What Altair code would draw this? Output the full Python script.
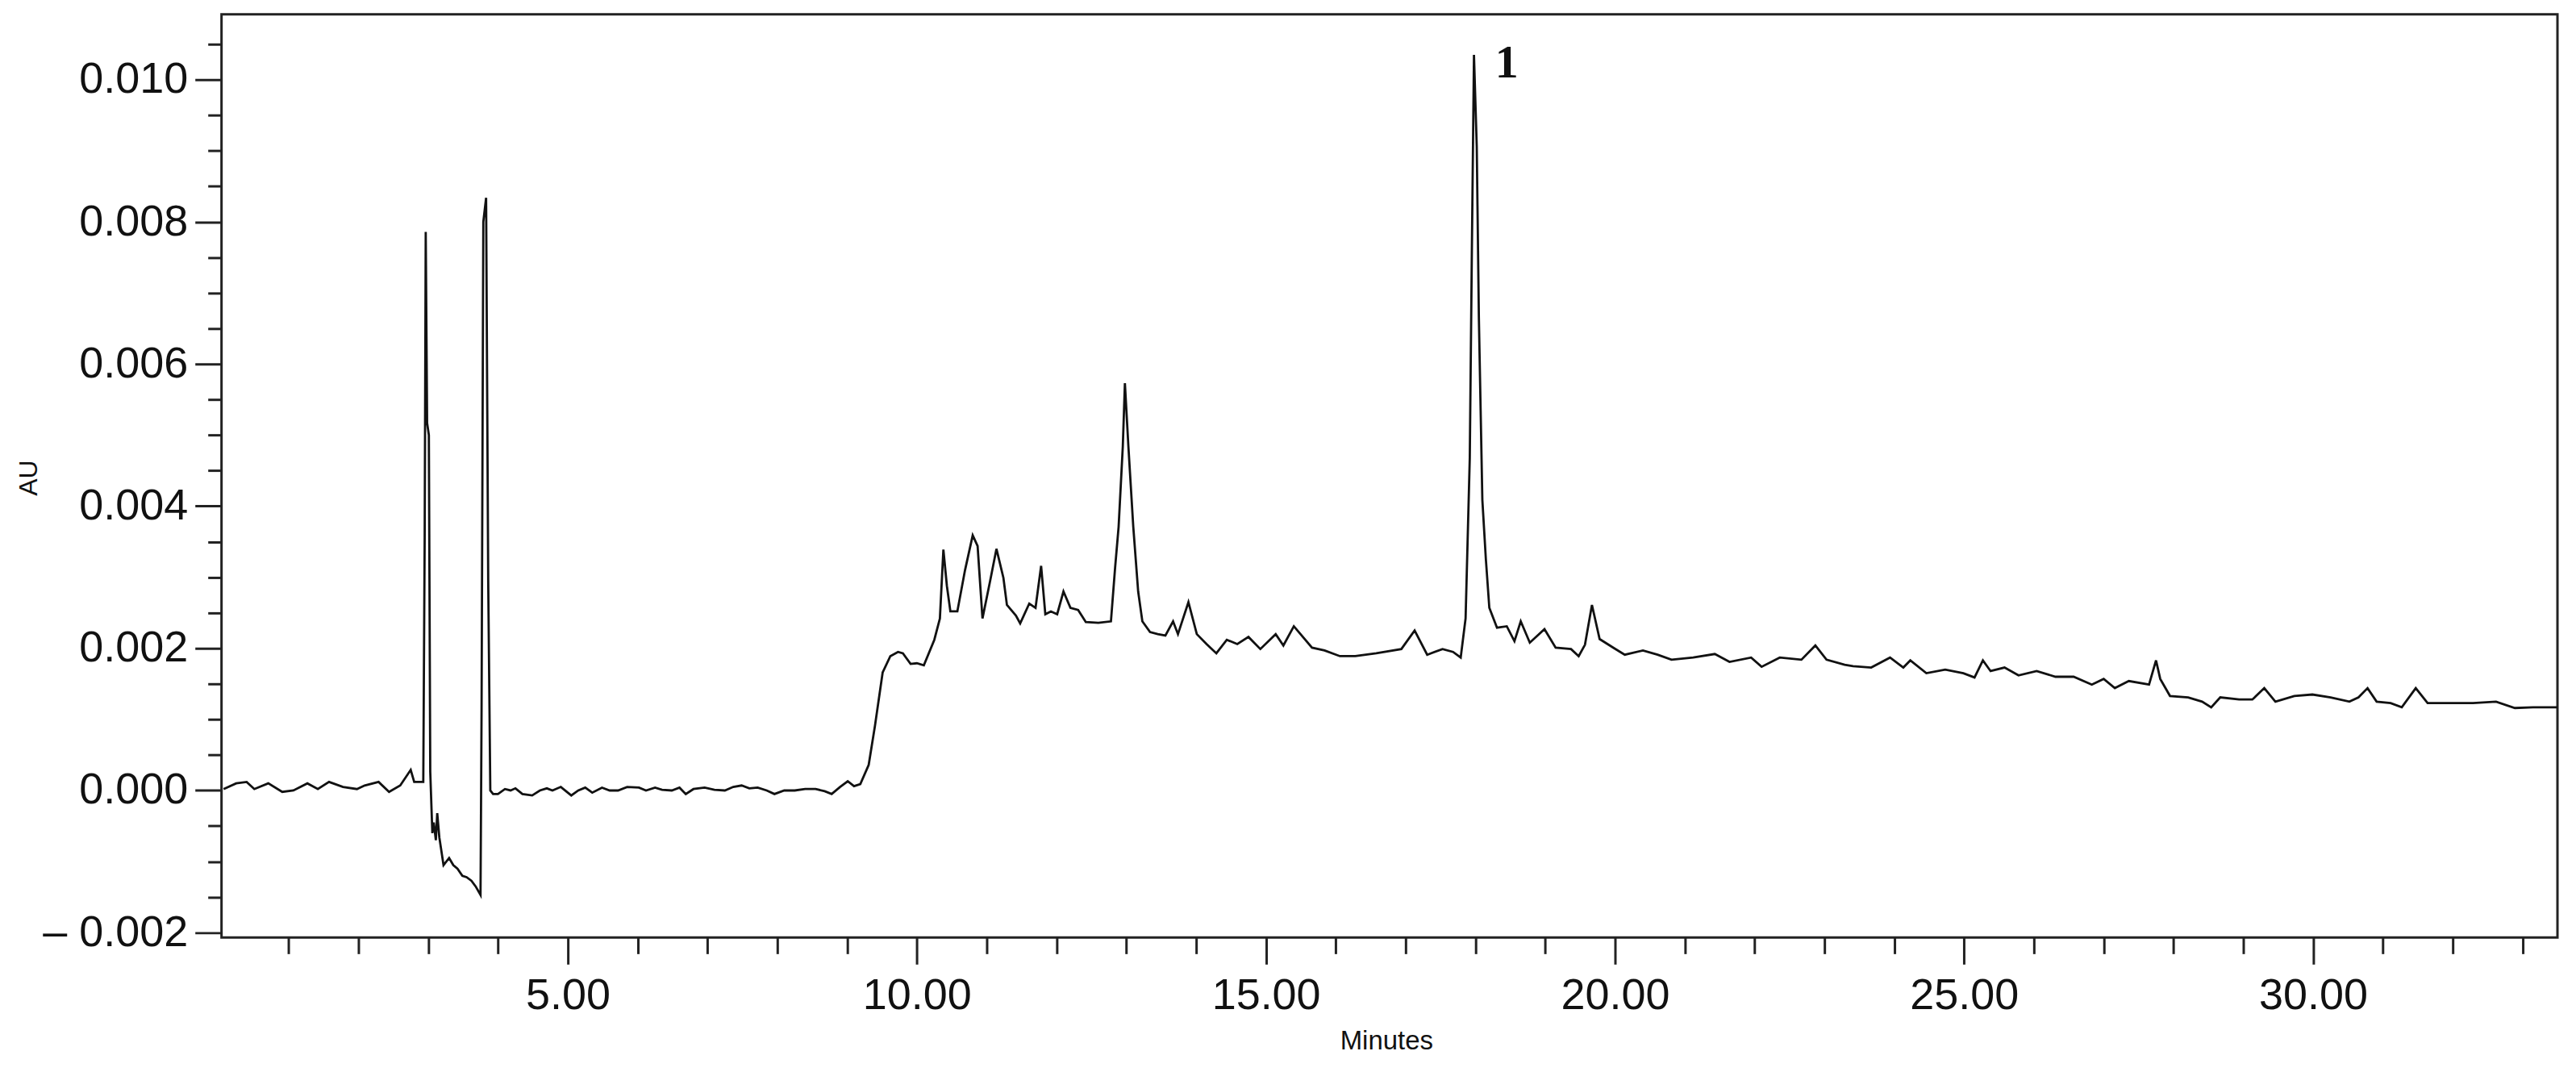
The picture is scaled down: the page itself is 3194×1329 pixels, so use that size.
import altair as alt
import pandas as pd

# Chromatogram trace (time in minutes, absorbance in mAU)
minutes = [
    0.07, 0.25, 0.40, 0.51, 0.71, 0.91, 1.07, 1.27, 1.42, 1.58, 1.78, 1.98, 2.09, 2.29, 2.44, 2.60,
    2.75, 2.80, 2.93, 2.95, 2.965, 2.985, 3.01, 3.03, 3.06, 3.08, 3.11, 3.13, 3.16, 3.22, 3.30, 3.36,
    3.42, 3.49, 3.55, 3.62, 3.68, 3.75, 3.765, 3.79, 3.83, 3.86, 3.89, 3.93, 4.00, 4.10, 4.18, 4.25,
    4.35, 4.49, 4.60, 4.70, 4.78, 4.90, 5.05, 5.15, 5.25, 5.35, 5.49, 5.60, 5.72, 5.85, 6.02, 6.12,
    6.25, 6.35, 6.49, 6.60, 6.69, 6.80, 6.96, 7.10, 7.25, 7.37, 7.49, 7.60, 7.72, 7.85, 7.96, 8.10,
    8.25, 8.40, 8.55, 8.68, 8.78, 8.90, 9.01, 9.10, 9.19, 9.31, 9.40, 9.51, 9.62, 9.73, 9.80, 9.91,
    10.00, 10.10, 10.25, 10.33, 10.38, 10.43, 10.48, 10.58, 10.69, 10.80, 10.87, 10.94, 11.05, 11.14,
    11.24, 11.29, 11.42, 11.48, 11.61, 11.70, 11.78, 11.84, 11.92, 12.01, 12.10, 12.20, 12.31, 12.42,
    12.60, 12.78, 12.84, 12.89, 12.95, 12.98, 13.03, 13.10, 13.17, 13.23, 13.34, 13.45, 13.56, 13.67,
    13.74, 13.89, 14.01, 14.15, 14.29, 14.44, 14.59, 14.75, 14.92, 15.14, 15.25, 15.40, 15.66, 15.84,
    16.06, 16.28, 16.58, 16.94, 17.13, 17.31, 17.53, 17.68, 17.79, 17.86, 17.92, 17.95, 17.98, 18.02,
    18.05, 18.10, 18.15, 18.20, 18.31, 18.45, 18.56, 18.65, 18.78, 18.99, 19.15, 19.37, 19.48, 19.57,
    19.67, 19.78, 19.99, 20.14, 20.40, 20.61, 20.81, 21.12, 21.43, 21.64, 21.95, 22.10, 22.36, 22.67,
    22.87, 23.03, 23.29, 23.41, 23.67, 23.94, 24.13, 24.23, 24.46, 24.73, 24.99, 25.15, 25.27, 25.38,
    25.58, 25.78, 26.04, 26.31, 26.57, 26.83, 27.00, 27.16, 27.36, 27.65, 27.75, 27.81, 27.95, 28.21,
    28.41, 28.54, 28.67, 28.94, 29.13, 29.30, 29.46, 29.73, 29.99, 30.25, 30.52, 30.65, 30.78, 30.91,
    31.11, 31.27, 31.47, 31.64, 31.96, 32.29, 32.62, 32.89, 33.15, 33.50,
]
mau = [
    0.02, 0.10, 0.12, 0.02, 0.10, -0.02, 0.00, 0.10, 0.02, 0.12, 0.05, 0.02, 0.07, 0.12, -0.02, 0.07,
    0.29, 0.12, 0.12, 3.56, 7.86, 5.17, 5.00, 0.26, -0.60, -0.45, -0.70, -0.32, -0.66, -1.05, -0.95, -1.05,
    -1.10, -1.20, -1.22, -1.27, -1.35, -1.47, 1.14, 8.00, 8.34, 2.96, 0.00, -0.05, -0.05, 0.02, 0.00, 0.03,
    -0.05, -0.07, 0.00, 0.03, 0.00, 0.05, -0.07, 0.00, 0.04, -0.03, 0.04, 0.00, 0.00, 0.05, 0.04, 0.00,
    0.04, 0.01, 0.00, 0.04, -0.05, 0.02, 0.04, 0.01, 0.00, 0.05, 0.07, 0.03, 0.04, 0.00, -0.05, 0.00,
    0.00, 0.02, 0.02, -0.01, -0.05, 0.05, 0.13, 0.06, 0.09, 0.36, 0.91, 1.66, 1.89, 1.95, 1.93, 1.78,
    1.79, 1.76, 2.12, 2.42, 3.39, 2.88, 2.52, 2.52, 3.10, 3.59, 3.44, 2.42, 2.95, 3.40,
    2.99, 2.61, 2.46, 2.35, 2.63, 2.57, 3.16, 2.48, 2.52, 2.48, 2.80, 2.57, 2.54, 2.37,
    2.36, 2.38, 3.14, 3.71, 4.84, 5.73, 4.84, 3.71, 2.80, 2.38, 2.23, 2.20, 2.18, 2.38,
    2.20, 2.65, 2.20, 2.06, 1.93, 2.12, 2.06, 2.16, 1.99, 2.20, 2.04, 2.31, 2.01, 1.97,
    1.89, 1.89, 1.93, 1.99, 2.25, 1.91, 1.99, 1.95, 1.87, 2.42, 4.68, 7.60, 10.35, 9.06,
    6.67, 4.09, 3.26, 2.57, 2.29, 2.31, 2.10, 2.38, 2.08, 2.27, 2.01, 1.99, 1.89, 2.05,
    2.61, 2.13, 2.00, 1.91, 1.97, 1.91, 1.84, 1.87, 1.92, 1.81, 1.87, 1.74, 1.87, 1.84,
    2.04, 1.84, 1.77, 1.75, 1.73, 1.87, 1.73, 1.83, 1.65, 1.70, 1.65, 1.59, 1.83, 1.68,
    1.73, 1.62, 1.68, 1.60, 1.60, 1.49, 1.57, 1.44, 1.54, 1.49, 1.83, 1.57, 1.33, 1.31,
    1.25, 1.17, 1.31, 1.28, 1.28, 1.44, 1.25, 1.33, 1.35, 1.31, 1.25, 1.31, 1.44, 1.25,
    1.23, 1.17, 1.44, 1.23, 1.23, 1.23, 1.25, 1.16, 1.17, 1.17,
]

peak_minutes = [18.45]
peak_au = [0.01023]
peak_labels = ["1"]

x_major = [5, 10, 15, 20, 25, 30]
x_minor = [1, 2, 3, 4, 6, 7, 8, 9, 11, 12, 13, 14, 16, 17, 18, 19, 21, 22, 23, 24,
           26, 27, 28, 29, 31, 32, 33]
y_major = [-0.002, 0.0, 0.002, 0.004, 0.006, 0.008, 0.010]
y_minor = [-0.0015, -0.001, -0.0005, 0.0005, 0.001, 0.0015, 0.0025, 0.003, 0.0035,
           0.0045, 0.005, 0.0055, 0.0065, 0.007, 0.0075, 0.0085, 0.009, 0.0095, 0.0105]

df = pd.DataFrame({"minutes": minutes, "au": [v / 1000.0 for v in mau]})
label_df = pd.DataFrame({"minutes": peak_minutes, "au": peak_au, "text": peak_labels})

FONT = "Liberation Sans"
INK = "#111111"

x_scale = alt.Scale(domain=[0.04, 33.5], nice=False, zero=False)
y_scale = alt.Scale(domain=[-0.00207, 0.01092], nice=False, zero=False)

line = alt.Chart(df).mark_line(color=INK, strokeWidth=2.8, clip=True).encode(
    x=alt.X(
        "minutes:Q",
        scale=x_scale,
        title="Minutes",
        axis=alt.Axis(
            orient="bottom", values=x_major, format=".2f", domain=False, grid=False,
            tickSize=33, tickWidth=3, tickColor="#222222",
            labelFont=FONT, labelFontSize=54, labelColor=INK, labelPadding=12,
            labelOverlap=False, labelFlush=False, labelLimit=400,
            titleFont=FONT, titleFontSize=33, titleFontWeight="normal", titleColor=INK,
            titleX=1446, titleY=128, titleAlign="center", titleBaseline="middle",
        ),
    ),
    y=alt.Y(
        "au:Q",
        scale=y_scale,
        title="AU",
        axis=alt.Axis(
            orient="left", values=y_major, domain=False, grid=False,
            labelExpr="datum.value < 0 ? '\u2013 ' + format(-datum.value, '.3f') : format(datum.value, '.3f')",
            tickSize=33, tickWidth=3, tickColor="#222222",
            labelFont=FONT, labelFontSize=54, labelColor=INK, labelPadding=9,
            labelOverlap=False, labelFlush=False, labelLimit=400,
            titleFont=FONT, titleFontSize=32, titleFontWeight="normal", titleColor=INK,
            titleX=-239, titleY=575, titleAngle=270, titleAlign="center", titleBaseline="middle",
        ),
    ),
)

label = alt.Chart(label_df).mark_text(
    font="Liberation Serif", fontSize=58, fontWeight="bold", color=INK, align="center", baseline="middle"
).encode(
    x=alt.X(
        "minutes:Q",
        scale=x_scale,
        title=None,
        axis=alt.Axis(orient="bottom", values=x_minor, labels=False, domain=False, grid=False,
                      tickSize=20, tickWidth=3, tickColor="#222222"),
    ),
    y=alt.Y(
        "au:Q",
        scale=y_scale,
        title=None,
        axis=alt.Axis(orient="left", values=y_minor, labels=False, domain=False, grid=False,
                      tickSize=17, tickWidth=3, tickColor="#222222"),
    ),
    text="text:N",
)

chart = (
    alt.layer(line, label)
    .resolve_axis(x="independent", y="independent")
    .properties(
        width=2900,
        height=1146,
        autosize=alt.AutoSizeParams(type="none"),
        padding={"left": 267, "top": 9, "right": 15, "bottom": 150},
        background="white",
    )
    .configure_view(stroke="#222222", strokeWidth=3)
)

chart.save("out.html", embed_options={"renderer": "svg", "actions": False})
